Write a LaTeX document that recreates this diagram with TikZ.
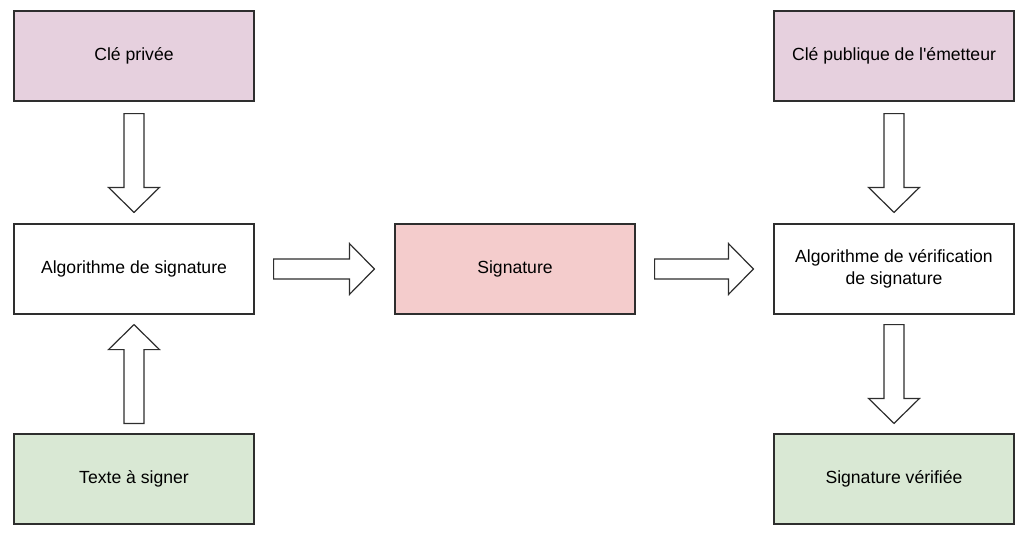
\documentclass[tikz,border=0pt]{standalone}
\usepackage{fontspec}
\setmainfont{Liberation Sans}
\usetikzlibrary{calc}
\definecolor{keypink}{HTML}{E6D0DE}
\definecolor{sigred}{HTML}{F4CCCC}
\definecolor{okgreen}{HTML}{D9E8D4}
\definecolor{edge}{HTML}{2E2E2E}
\newcommand\bigarrow[2]{%
  \path coordinate (h) at ($(#2)!25pt!(#1)$);
  \draw[barrow] ($(#1)!10pt!90:(#2)$) -- ($(h)!10pt!90:(#2)$) -- ($(h)!25.5pt!90:(#2)$) -- (#2)
    -- ($(h)!25.5pt!-90:(#2)$) -- ($(h)!10pt!-90:(#2)$) -- ($(#1)!10pt!-90:(#2)$) -- cycle;}
\begin{document}
\begin{tikzpicture}[x=1pt,y=-1pt,
  box/.style={draw=edge, line width=1.2pt, minimum width=240pt, minimum height=90pt,
    inner sep=0pt, align=center, font=\fontsize{17.6}{21.5}\selectfont},
  barrow/.style={draw=edge, fill=white, line width=1.2pt, line join=miter}]
\useasboundingbox (0,0) rectangle (1023,538);
\node[box, fill=keypink] (k1) at (134,56) {Clé privée};
\node[box, fill=white] (a1) at (134,269) {Algorithme de signature};
\node[box, fill=okgreen] (t1) at (134,479) {Texte à signer};
\node[box, fill=sigred] (s) at (515,269) {Signature};
\node[box, fill=keypink] (k2) at (894,56) {Clé publique de l\textquotesingle émetteur};
\node[box, fill=white] (v) at (894,269) {Algorithme de vérification\\ de signature};
\node[box, fill=okgreen] (sv) at (894,479) {Signature vérifiée};
\coordinate (p1a) at ($(k1.south)+(0,12)$);
\coordinate (p1b) at ($(a1.north)+(0,-11)$);
\coordinate (p2a) at ($(t1.north)+(0,-10)$);
\coordinate (p2b) at ($(a1.south)+(0,10)$);
\coordinate (p3a) at ($(a1.east)+(19,0)$);
\coordinate (p3b) at ($(s.west)+(-20,0)$);
\coordinate (p4a) at ($(s.east)+(19,0)$);
\coordinate (p4b) at ($(v.west)+(-20,0)$);
\coordinate (p5a) at ($(k2.south)+(0,12)$);
\coordinate (p5b) at ($(v.north)+(0,-11)$);
\coordinate (p6a) at ($(v.south)+(0,10)$);
\coordinate (p6b) at ($(sv.north)+(0,-10)$);
\bigarrow{p1a}{p1b}
\bigarrow{p2a}{p2b}
\bigarrow{p3a}{p3b}
\bigarrow{p4a}{p4b}
\bigarrow{p5a}{p5b}
\bigarrow{p6a}{p6b}
\end{tikzpicture}
\end{document}
